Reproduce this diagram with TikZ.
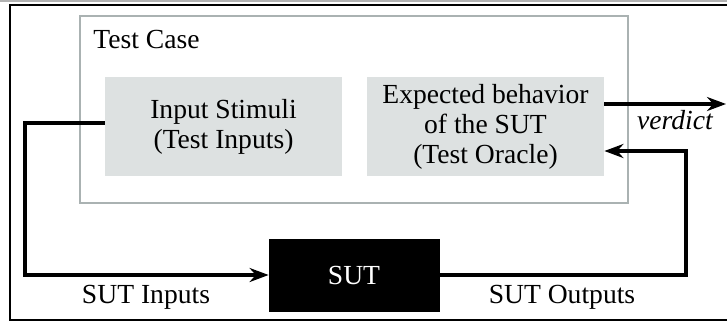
\documentclass[tikz,border=0pt]{standalone}
\usepackage{fontspec}
\setmainfont{Liberation Serif}
\usetikzlibrary{arrows.meta,calc}
\definecolor{boxfill}{RGB}{221,225,225}
\definecolor{caseline}{RGB}{170,178,178}
\tikzset{
  txt/.style={font=\fontsize{13.8}{15}\selectfont, align=center, inner sep=0pt},
  graybox/.style={fill=boxfill, draw=none, minimum width=118.5pt, minimum height=49.5pt, txt},
  casebox/.style={draw=caseline, line width=1pt, minimum width=274pt, minimum height=93.5pt},
  sutbox/.style={fill=black, draw=black, minimum width=85pt, minimum height=36pt, txt, text=white},
  conn/.style={line width=1.6pt, -{Stealth[length=9.5pt,width=7pt]}},
  plain/.style={line width=1.6pt}
}
\begin{document}
\begin{tikzpicture}[x=0.5pt,y=-0.5pt]
\useasboundingbox (0,0) rectangle (727,322);
\draw[gray!60, line width=0.8pt] (0,1) -- (727,1);
\draw[line width=0.9pt] (10,5) rectangle (740,320);
\node[casebox] (case) at (354,109.5) {};
\node[txt, anchor=west] (caselbl) at (93,39) {Test Case};
\node[graybox] (in) at (223.5,126.5) {Input Stimuli\\(Test Inputs)};
\node[graybox] (ex) at (485.5,126.5) {Expected behavior\\of the SUT\\(Test Oracle)};
\node[sutbox] (sut) at (354,275) {SUT};
\coordinate (ic) at (25,123);
\coordinate (vend) at (726,104);
\coordinate (oc) at (686,151);
\draw[conn] (in.west |- ic) -- (ic) |- (sut.west);
\draw[conn] (ex.east |- vend) -- (vend);
\draw[conn] (sut.east) -| (oc) -- (ex.east |- oc);
\node[txt, font=\fontsize{13.8}{15}\selectfont\itshape] (verd) at (675,120) {verdict};
\node[txt] (inlbl) at (146,297) {SUT Inputs};
\node[txt] (outlbl) at (562,297) {SUT Outputs};
\end{tikzpicture}
\end{document}
